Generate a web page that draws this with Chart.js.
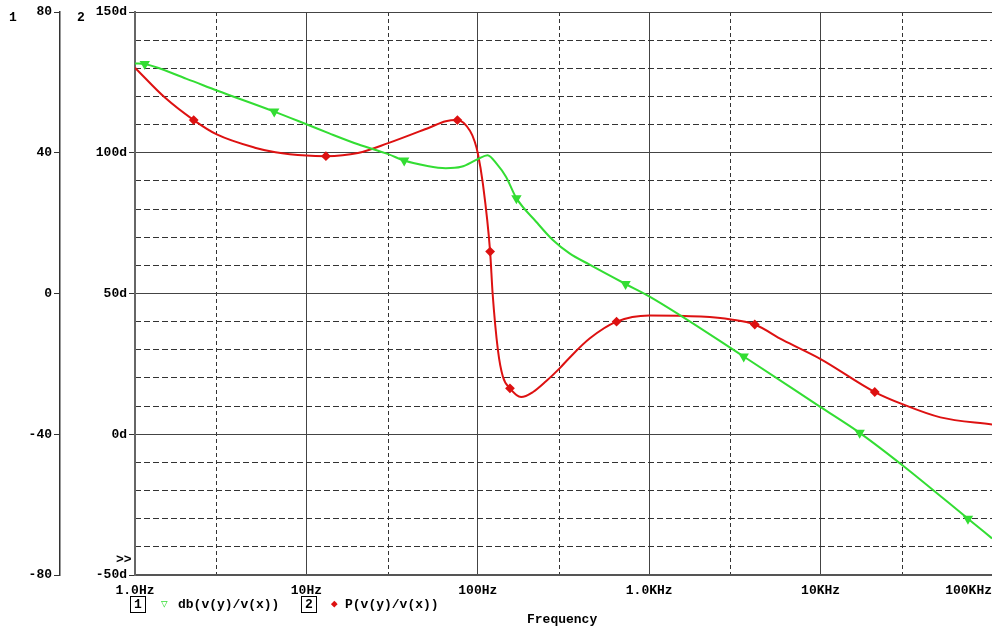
<!DOCTYPE html>
<html>
<head>
<meta charset="utf-8">
<script src="https://cdn.jsdelivr.net/npm/chart.js@4"></script>
<style>
  body { margin: 0; background: #fff; }
  #wrap { position: relative; width: 992px; height: 627px; }
  .t { position: absolute; font: bold 13px "Liberation Mono", monospace; color: #000; white-space: pre; line-height: 14px; }
  .box { border: 1px solid #000; padding: 0 3px; }
</style>
</head>
<body>
<div id="wrap">
  <canvas id="plot" width="992" height="627"></canvas>
  <div class="t" style="left:9px;top:11px">1</div>
  <div class="t" style="left:77px;top:11px">2</div>
  <div class="t" style="left:116px;top:553px">&gt;&gt;</div>
  <div class="t" style="left:130px;top:598px"><span class="box">1</span></div>
  <div class="t" style="left:161px;top:597px;color:#33dd33;font-size:11px">&#9661;</div>
  <div class="t" style="left:178px;top:598px">db(v(y)/v(x))</div>
  <div class="t" style="left:301px;top:598px"><span class="box">2</span></div>
  <div class="t" style="left:331px;top:597px;color:#dd1111;font-size:11px">&#9670;</div>
  <div class="t" style="left:345px;top:598px">P(v(y)/v(x))</div>
  <div class="t" style="left:527px;top:613px">Frequency</div>
</div>
<script>
// Bode plot - gain (trace 1) and phase (trace 2)
const freqTicks = [1, 10, 100, 1000, 10000, 100000];
const freqLabels = ['1.0Hz', '10Hz', '100Hz', '1.0KHz', '10KHz', '100KHz      '];
const freqMinor = [3, 30, 300, 3000, 30000];

const dbFreq = [1, 1.14, 2, 3, 6.49, 10, 13.6, 20, 30, 37.2, 50, 65, 80, 100, 114, 130, 146, 168, 219, 274, 343, 449, 728, 1000, 3560, 10000, 16900, 30000, 72400, 100000];
const dbVal  = [65.4, 65.2, 61.0, 57.7, 51.7, 48.1, 45.5, 42.4, 39.6, 37.8, 36.3, 35.6, 36.0, 38.2, 39.3, 36.6, 33.2, 27.1, 20.4, 15.2, 11.4, 8.2, 2.7, -0.8, -17.9, -32.3, -39.6, -48.8, -64.0, -69.6];
const dbMarks = [1.14, 6.49, 37.2, 168, 728, 3560, 16900, 72400];

const phFreq = [1, 1.5, 2.2, 3, 5, 6.6, 10, 13, 20, 30, 52, 65, 76, 90, 96, 100, 107, 118, 122, 131, 140, 154, 179, 210, 250, 300, 343, 449, 645, 1000, 2000, 3000, 4130, 6000, 10000, 20700, 30000, 50000, 100000];
const phVal  = [130.2, 119.5, 111.6, 106.5, 101.8, 100.2, 99.0, 98.8, 99.9, 103.4, 108.9, 111.2, 111.6, 107.8, 103.9, 99.8, 89.1, 64.9, 50.1, 30.0, 20.5, 16.3, 13.2, 15.0, 18.8, 23.4, 27.2, 34.0, 40.0, 42.2, 41.8, 40.8, 39.0, 33.5, 26.7, 15.0, 10.7, 6.0, 3.5];
const phMarks = [2.2, 13, 76, 118, 154, 645, 4130, 20700];

const dbTicks = [-80, -40, 0, 40, 80];

const GREEN = '#33dd33';
const RED = '#dd1111';
const FONT = { family: '"Liberation Mono", monospace', size: 13, weight: 'bold' };

function points(fx, vy) {
    return fx.map((f, i) => ({ x: f, y: vy[i] }));
}

new Chart(document.getElementById('plot'), {
    type: 'line',
    data: {
        datasets: [{
            label: 'db(v(y)/v(x))',
            data: points(dbFreq, dbVal),
            xAxisID: 'x',
            yAxisID: 'yDb',
            borderColor: GREEN,
            backgroundColor: GREEN,
            borderWidth: 2,
            cubicInterpolationMode: 'monotone',
            pointStyle: 'triangle',
            rotation: 180,
            pointRadius: ctx => dbMarks.includes(dbFreq[ctx.dataIndex]) ? 4 : 0,
            pointHoverRadius: 0
        }, {
            label: 'P(v(y)/v(x))',
            data: points(phFreq, phVal),
            xAxisID: 'x',
            yAxisID: 'yDeg',
            borderColor: RED,
            backgroundColor: RED,
            borderWidth: 2,
            cubicInterpolationMode: 'monotone',
            pointStyle: 'rectRot',
            pointRadius: ctx => phMarks.includes(phFreq[ctx.dataIndex]) ? 3.5 : 0,
            pointHoverRadius: 0
        }]
    },
    options: {
        responsive: false,
        animation: false,
        layout: { padding: { top: 12, right: 0, left: 0, bottom: 0 } },
        plugins: { legend: { display: false }, tooltip: { enabled: false } },
        scales: {
            x: {
                type: 'logarithmic',
                position: 'bottom',
                min: 1,
                max: 100000,
                afterBuildTicks: s => { s.ticks = freqTicks.map(v => ({ value: v })); },
                afterFit: s => { s.height = 52; s.paddingLeft = 0; s.paddingRight = 0; },
                ticks: {
                    callback: (v, i) => freqLabels[i],
                    font: FONT, color: '#000', maxRotation: 0, autoSkip: false, padding: 8
                },
                grid: { color: '#444', lineWidth: 1, drawTicks: false },
                border: { color: '#555', width: 2 }
            },
            xMinor: {
                type: 'logarithmic',
                position: 'top',
                min: 1,
                max: 100000,
                afterBuildTicks: s => { s.ticks = freqMinor.map(v => ({ value: v })); },
                afterFit: s => { s.height = 0; s.paddingLeft = 0; s.paddingRight = 0; },
                ticks: { display: false },
                grid: { color: '#333', lineWidth: 1, drawTicks: false },
                border: { display: false, dash: [4, 3] }
            },
            yDb: {
                type: 'linear',
                position: 'left',
                weight: 1,
                min: -80,
                max: 80,
                afterBuildTicks: s => { s.ticks = dbTicks.map(v => ({ value: v })); },
                afterFit: s => { s.width = 60; s.paddingTop = 0; s.paddingBottom = 0; },
                ticks: { font: FONT, color: '#000', padding: 2 },
                grid: { drawOnChartArea: false, tickLength: 6, tickColor: '#333' },
                border: { color: '#333', width: 1.5 }
            },
            yDeg: {
                type: 'linear',
                position: 'left',
                weight: 0,
                min: -50,
                max: 150,
                ticks: { stepSize: 50, callback: v => v + 'd', font: FONT, color: '#000', padding: 2 },
                afterFit: s => { s.width = 75; s.paddingTop = 0; s.paddingBottom = 0; },
                grid: { color: '#444', lineWidth: 1, tickLength: 6, tickColor: '#333' },
                border: { color: '#666', width: 2 }
            },
            yMinor: {
                type: 'linear',
                position: 'right',
                min: -50,
                max: 150,
                ticks: { display: false, stepSize: 10 },
                afterFit: s => { s.width = 0; s.paddingTop = 0; s.paddingBottom = 0; },
                grid: {
                    color: ctx => (ctx.tick && ctx.tick.value % 50 === 0) ? 'rgba(0,0,0,0)' : '#333',
                    lineWidth: 1, drawTicks: false
                },
                border: { display: false, dash: [6, 3] }
            }
        }
    }
});
</script>
</body>
</html>
